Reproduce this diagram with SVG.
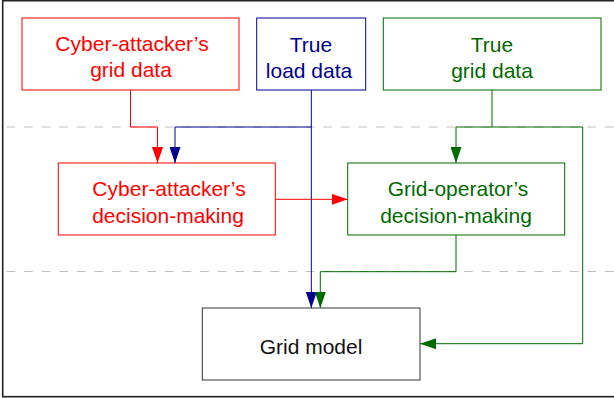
<svg xmlns="http://www.w3.org/2000/svg" width="614" height="398" viewBox="0 0 614 398">
<style>
text{font-family:"Liberation Sans",Arial,sans-serif;font-size:21px;text-anchor:middle}
.box{fill:#fff;stroke-width:1}
.red{stroke:#ff0000}.redt{fill:#ff0000}
.blue{stroke:#000090}.bluet{fill:#000090}
.green{stroke:#006a00}.greent{fill:#006a00}
.blk{stroke:#333}.blkt{fill:#111}
.conn path{fill:none;stroke-width:1}
.dash{stroke:#c0c0c0;stroke-width:1;stroke-dasharray:8.8 8.8}
</style>
<defs>
<marker id="ar" viewBox="0 0 16 11" refX="16" refY="5.5" markerWidth="16" markerHeight="11" markerUnits="userSpaceOnUse" orient="auto"><path d="M0,0 L16,5.5 L0,11 z" fill="#ff0000"/></marker>
<marker id="ab" viewBox="0 0 16 11" refX="16" refY="5.5" markerWidth="16" markerHeight="11" markerUnits="userSpaceOnUse" orient="auto"><path d="M0,0 L16,5.5 L0,11 z" fill="#000090"/></marker>
<marker id="ag" viewBox="0 0 16 11" refX="16" refY="5.5" markerWidth="16" markerHeight="11" markerUnits="userSpaceOnUse" orient="auto"><path d="M0,0 L16,5.5 L0,11 z" fill="#006a00"/></marker>
</defs>
<rect x="0" y="0" width="614" height="398" fill="#fff"/>
<rect x="2.7" y="0.7" width="620" height="396" fill="none" stroke="#222" stroke-width="1.6"/>
<line class="dash" x1="6.5" y1="127" x2="614" y2="127"/>
<line class="dash" x1="6.5" y1="271.5" x2="614" y2="271.5"/>
<g id="n1"><rect class="box red" x="22" y="18" width="217" height="72"/><text class="redt" x="132" y="51">Cyber-attacker’s</text><text class="redt" x="131" y="77">grid data</text></g>
<g id="n2"><rect class="box blue" x="256.7" y="18" width="109" height="72"/><text class="bluet" x="311" y="52">True</text><text class="bluet" x="309" y="78.3">load data</text></g>
<g id="n3"><rect class="box green" x="383.3" y="18" width="217.7" height="72"/><text class="greent" x="492" y="52">True</text><text class="greent" x="492" y="78.3">grid data</text></g>
<g id="n4"><rect class="box red" x="58.3" y="163" width="217" height="72"/><text class="redt" x="169" y="196">Cyber-attacker’s</text><text class="redt" x="168" y="223">decision-making</text></g>
<g id="n5"><rect class="box green" x="347.7" y="163" width="217" height="72"/><text class="greent" x="458" y="196">Grid-operator’s</text><text class="greent" x="456" y="223">decision-making</text></g>
<g id="n6"><rect class="box blk" x="202.3" y="308" width="217.7" height="72"/><text class="blkt" x="311" y="354">Grid model</text></g>
<g id="connectors" class="conn">
<path class="red" d="M130.5,90 V127 H157.5 V163" marker-end="url(#ar)"/>
<path class="red" d="M275.3,199.3 H347.7" marker-end="url(#ar)"/>
<path class="blue" d="M311.3,90 V308" marker-end="url(#ab)"/>
<path class="blue" d="M311.3,127 H175 V163" marker-end="url(#ab)"/>
<path class="green" d="M492,90 V127 H456 V163" marker-end="url(#ag)"/>
<path class="green" d="M492,127 H582.7 V343.7 H420" marker-end="url(#ag)"/>
<path class="green" d="M456,235 V271.7 H320.3 V308" marker-end="url(#ag)"/>
</g>
</svg>
